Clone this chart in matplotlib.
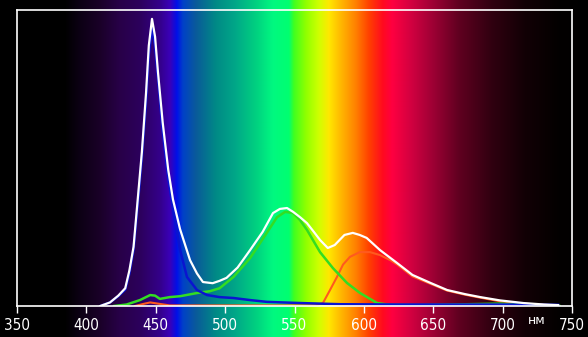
import numpy as np
import matplotlib
matplotlib.use('Agg')
import matplotlib.pyplot as plt
from matplotlib.colors import to_rgb

wl_white = [410, 417, 423, 428, 431, 434, 437, 440, 443, 445, 447.3, 449.5, 451.6, 455, 459, 462.4,
            467.5, 474.7, 479.7, 484, 491, 496, 501, 509, 518, 527, 534.5, 539.5, 544.6, 549, 554,
            559, 564, 568.4, 574, 579, 586, 592, 597, 602, 611.6, 624, 635, 648, 660, 673, 684,
            698, 715, 730, 740]
white = [0, 0.012, 0.035, 0.06, 0.12, 0.20, 0.36, 0.52, 0.72, 0.88, 0.97, 0.91, 0.79, 0.62, 0.46, 0.36,
         0.26, 0.155, 0.11, 0.081, 0.077, 0.085, 0.095, 0.13, 0.189, 0.25, 0.314, 0.328, 0.331, 0.318, 0.30,
         0.28, 0.25, 0.223, 0.196, 0.206, 0.24, 0.247, 0.24, 0.23, 0.189, 0.145, 0.105, 0.078, 0.054, 0.04, 0.03,
         0.019, 0.010, 0.005, 0.003]

wl_blue = [410, 417, 423, 428, 431, 434, 437, 440, 443, 445, 447.3, 449.5, 451.6, 455, 459, 462.4,
           467.5, 472.5, 479.7, 487, 496, 506, 518, 530, 554, 583, 626, 698, 740]
blue = [0, 0.012, 0.033, 0.055, 0.11, 0.19, 0.34, 0.50, 0.69, 0.85, 0.94, 0.88, 0.77, 0.59, 0.43, 0.33,
        0.19, 0.098, 0.054, 0.037, 0.03, 0.027, 0.02, 0.014, 0.01, 0.006, 0.005, 0.005, 0.004]

wl_green = [420, 429, 438.6, 446, 449.5, 453, 460, 467.5, 480, 489, 496, 506, 518, 530, 537.4, 543.2,
            549, 554, 559, 568.4, 577.7, 587.8, 597.2, 609.5, 619, 640, 698, 741]
green = [0, 0.005, 0.02, 0.037, 0.035, 0.024, 0.03, 0.033, 0.044, 0.05, 0.06, 0.098, 0.162, 0.247, 0.30, 0.318,
         0.314, 0.29, 0.257, 0.182, 0.128, 0.078, 0.044, 0.01, 0.004, 0.003, 0.008, 0]

wl_red = [435, 442, 446, 451.6, 460, 482, 565, 570.5, 575.6, 580.6, 585, 590, 597, 604.4, 611.6, 619,
          624, 635, 648, 660, 673, 684, 698, 715, 730, 740]
red = [0, 0.008, 0.012, 0.008, 0.002, 0.002, 0.002, 0.01, 0.054, 0.098, 0.14, 0.166, 0.182, 0.182, 0.172, 0.155,
       0.14, 0.10, 0.075, 0.052, 0.038, 0.028, 0.016, 0.008, 0.004, 0.002]

xticks = [350, 400, 450, 500, 550, 600, 650, 700, 750]

W, H = 588, 337
fig = plt.figure(figsize=(W / 100, H / 100), dpi=100)

# spectrum backdrop over the whole picture (pixel column -> colour)
stops = [(0, '#000000'), (65, '#000000'), (80, '#0c0014'), (100, '#1a0028'), (120, '#280048'),
         (140, '#2c005c'), (160, '#34008a'), (170, '#3a00b8'), (177, '#0010e8'), (183, '#0040c8'),
         (196, '#0a5a9a'), (216, '#008a86'), (236, '#00a888'), (256, '#00d080'), (273, '#00f880'),
         (289, '#00ff70'), (294, '#40ff20'), (306, '#90ff00'), (319, '#d0ff00'), (329, '#ffe800'),
         (343, '#ffb000'), (356, '#ff8000'), (369, '#ff4000'), (383, '#ff0a20'), (392, '#ff0040'),
         (412, '#d00040'), (432, '#a00035'), (459, '#600020'), (492, '#300010'), (525, '#120005'),
         (559, '#030000'), (588, '#000000')]
px = np.array([s[0] for s in stops], dtype=float)
cols = np.array([to_rgb(s[1]) for s in stops])
xs = np.arange(W) + 0.5
grad = np.stack([np.interp(xs, px, cols[:, i]) for i in range(3)], axis=-1)[None, :, :]

bg = fig.add_axes([0, 0, 1, 1])
bg.imshow(grad, aspect='auto', extent=[0, 1, 0, 1], interpolation='bilinear')
bg.axis('off')

ax = fig.add_axes([17 / W, 31 / H, 555 / W, 296 / H])
ax.set_facecolor('none')
ax.plot(wl_red, red, color='#ff5a1e', lw=1.5)
ax.plot(wl_green, green, color='#33dd22', lw=1.8)
ax.plot(wl_blue, blue, color='#0a14d0', lw=1.8)
ax.plot(wl_white, white, color='white', lw=1.6)

ax.set_xlim(350, 750)
ax.set_ylim(0, 1)
ax.set_xticks(xticks)
ax.set_xticklabels([str(t) for t in xticks], color='white', fontsize=11,
                   family='DejaVu Sans', stretch='condensed')
ax.tick_params(axis='x', colors='white', direction='out', length=5, width=1, pad=4)
ax.set_yticks([])
for s in ax.spines.values():
    s.set_color('white')
    s.set_linewidth(1.2)

fig.text(537 / W, 1 - 320 / H, 'нм', color='white', fontsize=9, ha='center', va='center')

fig.savefig('out.png', dpi=100, facecolor='black')
